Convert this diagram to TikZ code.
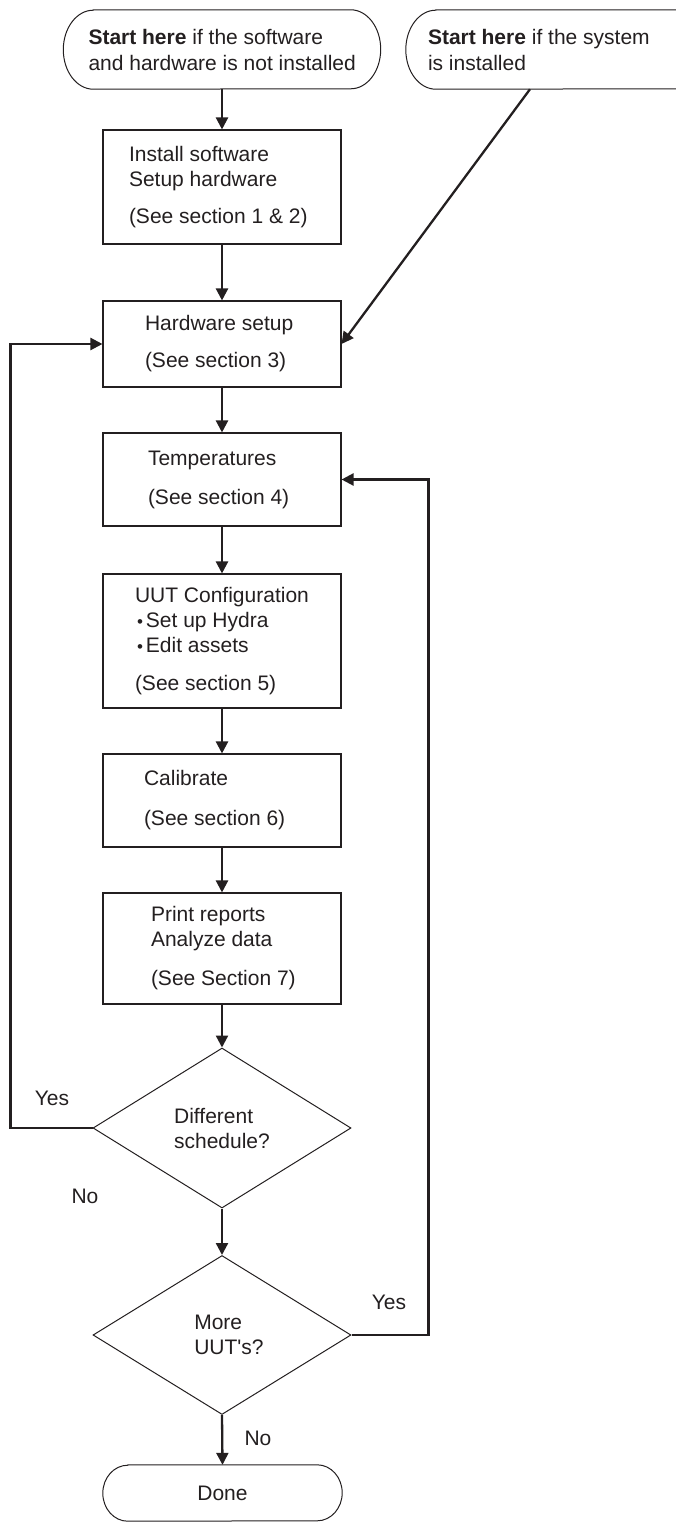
\documentclass[tikz,border=0pt]{standalone}
\usepackage{fontspec}
\setmainfont{Liberation Sans}[Ligatures=TeXOff]
\usetikzlibrary{arrows.meta,shapes.geometric}
\definecolor{ink}{HTML}{231F20}
\newcommand\stadium[3]{%
  \draw[draw=ink, line width=1pt]
    ([xshift=#2pt]#1.north west) -- ([xshift=-#2pt]#1.north east)
    arc[start angle=90, end angle=-90, x radius=#2pt, y radius=#3pt]
    -- ([xshift=#2pt]#1.south west)
    arc[start angle=270, end angle=90, x radius=#2pt, y radius=#3pt] -- cycle;}
% left-indented text block of a given width
\newcommand\tblock[3]{\parbox{#1pt}{\leftskip=#2pt\rightskip=0pt plus 1fil\parindent=0pt #3}}
\newcommand\bul{\hspace*{2pt}{\fontsize{17}{25}\selectfont •}\hspace{3pt}}
\begin{document}
\begin{tikzpicture}[x=1pt,y=1pt,
  every node/.style={font=\fontsize{21}{25}\selectfont, text=ink},
  box/.style={draw=ink, line width=1.1pt, rectangle, inner sep=0pt,
    minimum width=238pt},
  dec/.style={draw=ink, line width=1pt, diamond, minimum width=258pt,
    minimum height=160pt, align=left, inner sep=0pt},
  arr/.style={draw=ink, line width=2.3pt, -{Triangle[length=12pt,width=12pt]}},
  term/.style={inner sep=0pt, align=left},
  lab/.style={inner sep=0pt}
]
\useasboundingbox (0,0) rectangle (675,-1522);

% terminals
\node[term, minimum width=317pt, minimum height=79pt] (s1) at (222,-49.5)
  {\tblock{317}{25}{\textbf{Start here} if the software\\[1pt]and hardware is not installed}};
\stadium{s1}{30}{39.5}
\node[term, minimum width=317pt, minimum height=79pt] (s2) at (564.5,-49.5)
  {\tblock{317}{22}{\textbf{Start here} if the system\\[1pt]is installed}};
\stadium{s2}{30}{39.5}

% process boxes
\node[box, minimum height=114pt] (b1) at (222,-187)
  {\tblock{238}{26}{Install software\\Setup hardware\\[12pt](See section 1 \& 2)}};
\node[box, minimum height=86pt] (b2) at (222,-344)
  {\tblock{238}{42}{Hardware setup\\[12pt](See section 3)}};
\node[box, minimum height=93pt] (b3) at (222,-479.5)
  {\tblock{238}{45}{Temperatures\\[14pt](See section 4)}};
\node[box, minimum height=134pt] (b4) at (222,-641)
  {\tblock{238}{32}{UUT Configuration\\\bul Set up Hydra\\\bul Edit assets\\[13pt](See section 5)}};
\node[box, minimum height=93pt] (b5) at (222,-800.5)
  {\tblock{238}{41}{Calibrate\\[15pt](See section 6)}};
\node[box, minimum height=111pt] (b6) at (222,-948.5)
  {\tblock{238}{48}{Print reports\\Analyze data\\[14pt](See Section 7)}};

% decisions
\node[dec] (d1) at (222,-1128) {Different\\schedule?};
\node[dec, minimum height=159pt] (d2) at (222,-1335)
  {\hspace*{14pt}More\\\hspace*{14pt}UUT's?};

% end
\node[term, minimum width=239pt, minimum height=56pt] (done) at (222.5,-1493) {Done};
\stadium{done}{25}{28}

% connectors
\draw[arr] (s1.south) -- (b1.north);
\draw[arr] ([xshift=-34.5pt]s2.south) -- (b2.east);
\draw[arr] (b1.south) -- (b2.north);
\draw[arr] (b2.south) -- (b3.north);
\draw[arr] (b3.south) -- (b4.north);
\draw[arr] (b4.south) -- (b5.north);
\draw[arr] (b5.south) -- (b6.north);
\draw[arr] (b6.south) -- (d1.north);
\draw[arr] (d1.south) -- (d2.north);
\draw[arr] (d2.south) -- (done.north);
\draw[arr] (d1.west) -- ++(-82,0) |- (b2.west);
\draw[arr] (d2.east) -- ++(77,0) |- (b3.east);

% labels
\node[lab] (yes1) at (52,-1098) {Yes};
\node[lab] (no1) at (85,-1196) {No};
\node[lab] (yes2) at (389,-1302) {Yes};
\node[lab] (no2) at (258,-1438) {No};
\end{tikzpicture}
\end{document}
